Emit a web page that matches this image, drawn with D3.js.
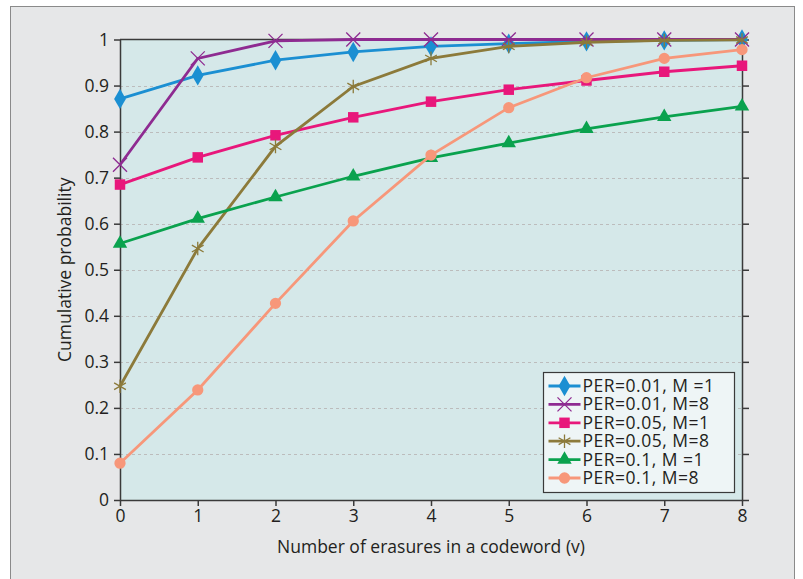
<!doctype html>
<html>
  <head>
    <style>
      body { margin: 0; background: #fff; }
      svg text { font-family: "Open Sans", "Noto Sans", sans-serif; fill: #231f20; }
      .grid line { stroke: #bcbcbc; stroke-dasharray: 3,3; }
    </style>
    <script src="https://cdn.jsdelivr.net/npm/d3@7"></script>
  </head>
  <body>
  <script>
    // data
    var erasures = [0, 1, 2, 3, 4, 5, 6, 7, 8];
    var yTicks = [0, 0.1, 0.2, 0.3, 0.4, 0.5, 0.6, 0.7, 0.8, 0.9, 1];
    var seriesNames = ["PER=0.01, M =1", "PER=0.01, M=8", "PER=0.05, M=1",
                       "PER=0.05, M=8", "PER=0.1, M =1", "PER=0.1, M=8"];
    var per001m1 = [0.871, 0.922, 0.955, 0.973, 0.985, 0.991, 0.996, 0.998, 1.0];
    var per001m8 = [0.728, 0.959, 0.997, 1.0, 1.0, 1.0, 1.0, 1.0, 1.0];
    var per005m1 = [0.685, 0.744, 0.792, 0.831, 0.865, 0.891, 0.911, 0.930, 0.943];
    var per005m8 = [0.247, 0.546, 0.768, 0.898, 0.959, 0.985, 0.994, 0.998, 0.999];
    var per01m1  = [0.557, 0.611, 0.658, 0.703, 0.743, 0.775, 0.806, 0.832, 0.855];
    var per01m8  = [0.080, 0.239, 0.427, 0.606, 0.749, 0.852, 0.917, 0.959, 0.978];

    var colors = ["#1b8fd2", "#8e2b91", "#e8177b", "#8c7a3a", "#0aa24e", "#f7977a"];
    var symbols = ["diamond", "cross", "square", "star", "triangle", "circle"];
    var allValues = [per001m1, per001m8, per005m1, per005m8, per01m1, per01m8];

    var W = 803, H = 579;
    var margin = {top: 39.5, right: 61, bottom: 79, left: 120};

    var svg = d3.select("body").append("svg")
        .attr("width", W).attr("height", H);

    // outer frame
    svg.append("rect")
        .attr("x", 10.5).attr("y", 6.5)
        .attr("width", 784).attr("height", H)
        .attr("fill", "#e6e7e8").attr("stroke", "#8a8a8a");

    var x = d3.scaleLinear().domain([0, 8]).range([margin.left, W - margin.right]);
    var y = d3.scaleLinear().domain([0, 1]).range([H - margin.bottom, margin.top]);

    // plot area
    svg.append("rect")
        .attr("x", x(0)).attr("y", y(1))
        .attr("width", x(8) - x(0)).attr("height", y(0) - y(1))
        .attr("fill", "#d5e8e9");

    // dashed grid
    svg.append("g").attr("class", "grid")
      .selectAll("line")
      .data(yTicks.slice(1, -1))
      .enter().append("line")
        .attr("x1", x(0)).attr("x2", x(8))
        .attr("y1", function(d) { return Math.round(y(d)) + 0.5; })
        .attr("y2", function(d) { return Math.round(y(d)) + 0.5; });

    // axes
    var xAxis = svg.append("g")
        .attr("transform", "translate(0," + y(0) + ")")
        .call(d3.axisBottom(x).tickValues(erasures).tickSize(6).tickSizeOuter(0).tickPadding(4));
    var yAxis = svg.append("g")
        .attr("transform", "translate(" + x(0) + ",0)")
        .call(d3.axisLeft(y).tickValues(yTicks).tickFormat(d3.format("~g")).tickSize(6).tickSizeOuter(0).tickPadding(5));
    var yRight = svg.append("g")
        .attr("transform", "translate(" + x(8) + ",0)")
        .call(d3.axisLeft(y).tickValues(yTicks).tickFormat("").tickSize(-7).tickSizeOuter(0));
    svg.append("line")
        .attr("x1", x(0)).attr("x2", x(8))
        .attr("y1", y(1)).attr("y2", y(1))
        .attr("stroke", "#3a3a3a").attr("stroke-width", 1.5);

    [xAxis, yAxis, yRight].forEach(function(a) {
      a.attr("font-size", null).attr("font-family", null);
      a.selectAll("path, line").attr("stroke", "#3a3a3a").attr("stroke-width", 1.5);
      a.selectAll("text").style("font-size", "17.5px").attr("fill", "#231f20");
    });

    // axis titles
    svg.append("text")
        .attr("x", (x(0) + x(8)) / 2).attr("y", 553)
        .attr("text-anchor", "middle")
        .style("font-size", "17.5px")
        .text("Number of erasures in a codeword (v)");
    svg.append("text")
        .attr("transform", "translate(71," + (y(0) + y(1)) / 2 + ") rotate(-90)")
        .attr("text-anchor", "middle")
        .style("font-size", "17.5px")
        .text("Cumulative probability");

    function symPath(kind, size) {
      var t = {diamond: d3.symbolDiamond, square: d3.symbolSquare, triangle: d3.symbolTriangle,
               circle: d3.symbolCircle, cross: d3.symbolTimes, star: d3.symbolAsterisk}[kind];
      return d3.symbol().type(t).size(size)();
    }
    function drawMarker(g, kind, color) {
      var p = g.append("path").attr("d", symPath(kind, kind === "square" ? 110 : kind === "triangle" ? 90 :
                                                 kind === "diamond" ? 120 : kind === "circle" ? 100 : 130));
      if (kind === "cross" || kind === "star") {
        p.attr("fill", "none").attr("stroke", color).attr("stroke-width", 1.3);
      } else {
        p.attr("fill", color);
      }
    }

    var line = d3.line()
        .x(function(d, i) { return x(erasures[i]); })
        .y(function(d) { return y(d); });

    allValues.forEach(function(vals, k) {
      svg.append("path")
          .datum(vals)
          .attr("d", line)
          .attr("fill", "none")
          .attr("stroke", colors[k])
          .attr("stroke-width", 2.8);
      vals.forEach(function(v, i) {
        var g = svg.append("g").attr("transform", "translate(" + x(erasures[i]) + "," + y(v) + ")");
        drawMarker(g, symbols[k], colors[k]);
      });
    });

    // legend
    var lx = 543.5, ly = 372.5, lw = 191, lh = 120;
    svg.append("rect")
        .attr("x", lx).attr("y", ly).attr("width", lw).attr("height", lh)
        .attr("fill", "#eef5f6").attr("stroke", "#3a3a3a").attr("stroke-width", 1.2);
    seriesNames.forEach(function(name, k) {
      var cy = ly + 13.5 + k * 18.4;
      var g = svg.append("g");
      g.append("line")
          .attr("x1", lx + 5).attr("x2", lx + 37)
          .attr("y1", cy).attr("y2", cy)
          .attr("stroke", colors[k]).attr("stroke-width", 2.8);
      drawMarker(g.append("g").attr("transform", "translate(" + (lx + 21) + "," + cy + ")"), symbols[k], colors[k]);
      g.append("text")
          .attr("x", lx + 39).attr("y", cy + 6)
          .style("font-size", "17.5px")
          .style("letter-spacing", "0.5px")
          .text(name);
    });
  </script>
  </body>
</html>
